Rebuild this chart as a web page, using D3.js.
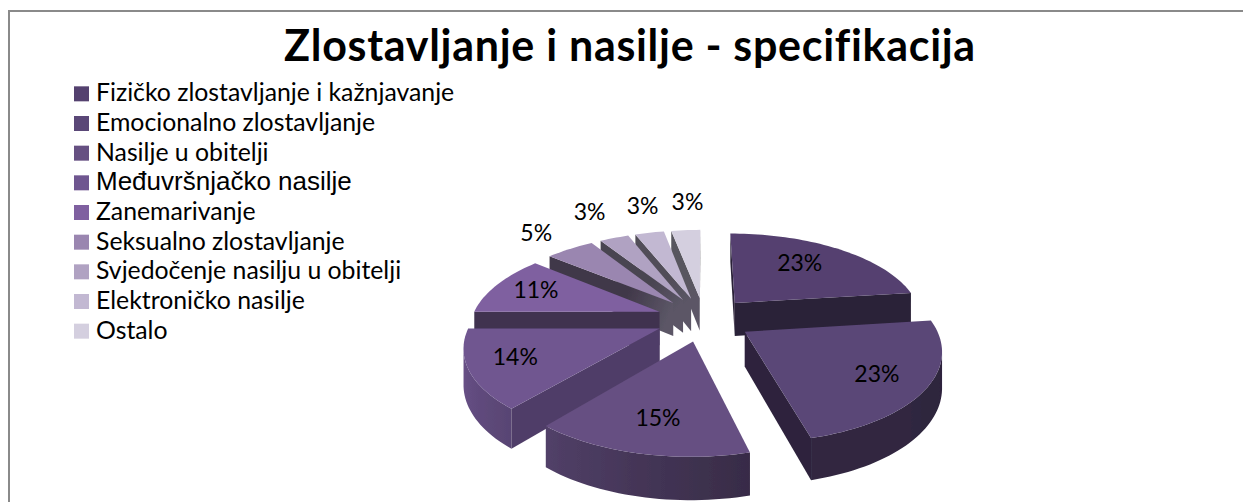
<!DOCTYPE html>
<html><head><meta charset="utf-8">
<script src="https://cdnjs.cloudflare.com/ajax/libs/d3/7.8.5/d3.min.js"></script>
<style>html,body{margin:0;padding:0;background:#fff}svg{display:block}</style></head>
<body><svg id="c" width="1243" height="502"></svg>
<script>
const categories = ["Fizičko zlostavljanje i kažnjavanje","Emocionalno zlostavljanje","Nasilje u obitelji","Međuvršnjačko nasilje","Zanemarivanje","Seksualno zlostavljanje","Svjedočenje nasilju u obitelji","Elektroničko nasilje","Ostalo"];
const values = [23,23,15,14,11,5,3,3,3];
const colors = ["#54416f","#5a4777","#665082","#6f5690","#7f60a0","#9a86b0","#b0a2c2","#c2b8d2","#d4cfdf"];
const title = "Zlostavljanje i nasilje - specifikacija";

const W=1243,H=502;
const svg=d3.select("#c");
const defs=svg.append("defs");
defs.append("filter").attr("id","soft").append("feGaussianBlur").attr("stdDeviation",0.5);

// frame
svg.append("path").attr("d",`M9,${H}V11H${W}`).attr("fill","none").attr("stroke","#8a8a8a").attr("stroke-width",2);

svg.append("text").attr("x",630).attr("y",61).attr("text-anchor","middle")
  .attr("font-family","Lato").attr("font-weight",700).attr("font-size",43).attr("letter-spacing",0.7).attr("fill","#000").text(title);

// legend
const legY=d3.scaleBand().domain(categories).range([79,346]);
const leg=svg.append("g").selectAll("g").data(categories).join("g");
leg.append("rect").attr("x",74).attr("y",d=>legY(d)+legY.bandwidth()/2-7.5).attr("width",15).attr("height",15).attr("fill",(d,i)=>colors[i]);
leg.append("text").attr("x",96).attr("y",d=>legY(d)+legY.bandwidth()/2+7.5)
  .attr("font-family",(d,i)=>i==3?"Liberation Sans":"Lato")
  .attr("font-size",(d,i)=>i==3?26:24.8).attr("fill","#000").text(d=>d);

// pie, perspective projected
const CX=704,CY=319,R=188,E=48,K=0.46,P=0.00092,Z=34;
const pie=d3.pie().sort(null).value(d=>d)(values);
const project=(x,y,z=0)=>{const f=1/(1-y*P);return [CX+x*f,CY+y*K*f+z*f];};
const radial=d3.scaleLinear().domain([0,1]).range([0,R]);
const rimShade=d3.scaleLinear().domain([1.57,2.9,3.84,4.71]).range([0.5,0.55,0.8,1]).clamp(true);
const cutShade=i=>i==3?0.72:0.5;
const darker=(c,k)=>{const o=d3.rgb(c);return d3.rgb(o.r*k,o.g*k,o.b*k).formatHex();};
const line=d3.line();
const slices=pie.map((s,i)=>{
  const mid=(s.startAngle+s.endAngle)/2;
  return {s,i,mid,ox:Math.sin(mid)*E,oy:-Math.cos(mid)*E};
}).sort((a,b)=>a.oy-b.oy);
const g=svg.append("g").attr("filter","url(#soft)");
const camY=1/P;
slices.forEach(({s,i,ox,oy})=>{
  const pt=(a,t)=>[ox+Math.sin(a)*radial(t),oy-Math.cos(a)*radial(t)];
  const a0=s.startAngle,a1=s.endAngle;
  const n=Math.max(4,Math.ceil((a1-a0)/0.03));
  const angs=d3.range(n+1).map(k=>a0+(a1-a0)*k/n);
  const col=colors[i];
  // rim: one band for the part that faces the viewer
  const vis=angs.filter(a=>{const [px,py]=pt(a,1);return Math.sin(a)*(0-px)-Math.cos(a)*(camY-py)>0;});
  if(vis.length>1){
    const top=vis.map(a=>project(...pt(a,1)));
    const bot=vis.map(a=>project(...pt(a,1),Z)).reverse();
    const x0=top[0][0],x1=top[top.length-1][0];
    const id="rim"+i;
    const gr=defs.append("linearGradient").attr("id",id).attr("gradientUnits","userSpaceOnUse")
      .attr("x1",x0).attr("y1",0).attr("x2",x1).attr("y2",0);
    vis.forEach((a,k)=>gr.append("stop").attr("offset",(top[k][0]-x0)/(x1-x0)).attr("stop-color",darker(col,rimShade(a))));
    g.append("path").attr("d",line([...top,...bot])+"Z").attr("fill",`url(#${id})`);
  }
  // cut faces
  [[a0,-1],[a1,1]].forEach(([a,sg])=>{
    const nx=sg*Math.cos(a),ny=sg*Math.sin(a);
    if(nx*(0-ox)+ny*(camY-oy)<=0) return;
    const O=[ox,oy],T=pt(a,1);
    const id="cut"+i+(sg>0?"e":"s");
    const p0=project(...O),p1=project(...T);
    const gr=defs.append("linearGradient").attr("id",id).attr("gradientUnits","userSpaceOnUse")
      .attr("x1",p0[0]).attr("y1",p0[1]).attr("x2",p1[0]).attr("y2",p1[1]);
    const base=darker(col,cutShade(i));
    gr.append("stop").attr("offset",0).attr("stop-color",i>=5?"#5b5666":base);
    gr.append("stop").attr("offset",i>=5?0.35:1).attr("stop-color",i>=5?darker(col,0.42):base);
    g.append("path").attr("d",line([p0,p1,project(...T,Z),project(...O,Z)])+"Z").attr("fill",`url(#${id})`);
  });
  // top
  const poly=[project(ox,oy),...angs.map(a=>project(...pt(a,1)))];
  g.append("path").attr("d",line(poly)+"Z").attr("fill",col);
});

// value labels
const labelR=[0.68,0.79,0.74,0.74,0.70,1.31,1.47,1.47,1.47];
const labelShift=[-8,-8,3,-6,-8,-6,2,9,7];
pie.forEach((s,i)=>{
  const mid=(s.startAngle+s.endAngle)/2;
  const r=E+R*labelR[i];
  const [lx,ly]=project(Math.sin(mid)*r,-Math.cos(mid)*r);
  svg.append("text").attr("x",lx+labelShift[i]).attr("y",ly+6).attr("text-anchor","middle")
    .attr("font-family","Lato").attr("font-size",23).attr("fill","#000").text(Math.round(s.value)+"%");
});
</script></body></html>
